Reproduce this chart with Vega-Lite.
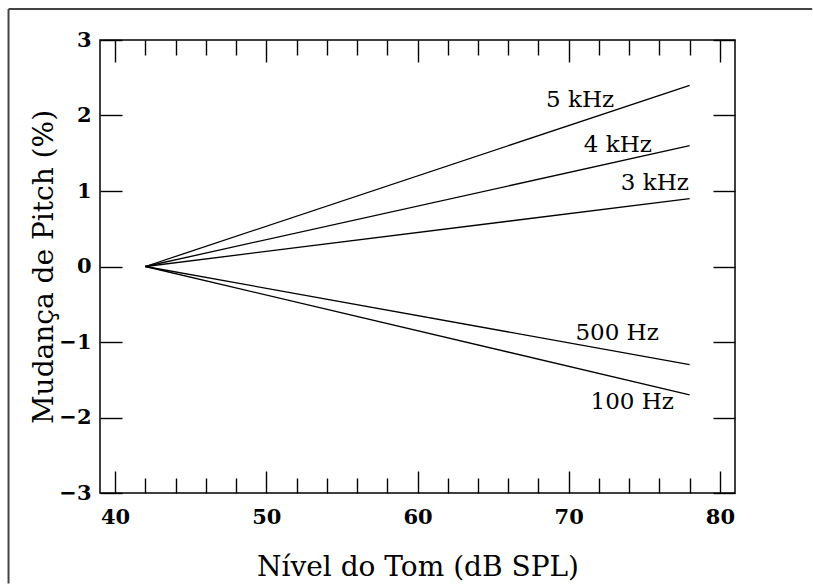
{
  "$schema": "https://vega.github.io/schema/vega-lite/v6.json",
  "width": 635,
  "height": 453,
  "autosize": "none",
  "padding": {"left": 100, "top": 40, "right": 78, "bottom": 93},
  "background": "white",
  "config": {
    "view": {"stroke": "#000", "strokeWidth": 1.5},
    "axis": {
      "domain": false,
      "grid": false,
      "tickColor": "#000",
      "tickWidth": 1.4,
      "labelFont": "DejaVu Serif",
      "labelFontWeight": "bold",
      "labelFontSize": 21,
      "labelColor": "#000",
      "titleFont": "DejaVu Serif",
      "titleFontWeight": "normal",
      "titleFontSize": 28,
      "titleColor": "#000"
    }
  },
  "datasets": {
    "curves": [
      {"serie": "5 kHz", "nivel": 42, "mudanca": 0},
      {"serie": "5 kHz", "nivel": 78, "mudanca": 2.4},
      {"serie": "4 kHz", "nivel": 42, "mudanca": 0},
      {"serie": "4 kHz", "nivel": 78, "mudanca": 1.6},
      {"serie": "3 kHz", "nivel": 42, "mudanca": 0},
      {"serie": "3 kHz", "nivel": 78, "mudanca": 0.9},
      {"serie": "500 Hz", "nivel": 42, "mudanca": 0},
      {"serie": "500 Hz", "nivel": 78, "mudanca": -1.3},
      {"serie": "100 Hz", "nivel": 42, "mudanca": 0},
      {"serie": "100 Hz", "nivel": 78, "mudanca": -1.7}
    ],
    "labels": [
      {"serie": "5 kHz", "lx": 70.75, "ly": 2.2},
      {"serie": "4 kHz", "lx": 73.25, "ly": 1.61},
      {"serie": "3 kHz", "lx": 75.7, "ly": 1.11},
      {"serie": "500 Hz", "lx": 73.2, "ly": -0.88},
      {"serie": "100 Hz", "lx": 74.2, "ly": -1.79}
    ],
    "frame": [
      {"x0": 32.95, "x1": 86.1, "y0": 3.41, "y1": 3.41},
      {"x0": 32.95, "x1": 32.95, "y0": 3.41, "y1": -4.2}
    ]
  },
  "layer": [
    {
      "data": {"name": "curves"},
      "mark": {"type": "line", "color": "#000", "strokeWidth": 1.3},
      "encoding": {
        "x": {
          "field": "nivel",
          "type": "quantitative",
          "scale": {"domain": [39, 81], "nice": false, "zero": false},
          "axis": {
            "orient": "bottom",
            "title": "Nível do Tom (dB SPL)",
            "values": [40, 42, 44, 46, 48, 50, 52, 54, 56, 58, 60, 62, 64, 66, 68, 70, 72, 74, 76, 78, 80],
            "labelExpr": "datum.value % 10 === 0 ? datum.label : ''",
            "tickSize": {"condition": {"test": "datum.value % 10 === 0", "value": -22}, "value": -15},
            "labelPadding": 35,
            "titlePadding": 26
          }
        },
        "y": {
          "field": "mudanca",
          "type": "quantitative",
          "scale": {"domain": [-3, 3], "nice": false, "zero": false},
          "axis": {
            "orient": "left",
            "title": "Mudança de Pitch (%)",
            "values": [-3, -2, -1, 0, 1, 2, 3],
            "tickSize": -22,
            "labelPadding": 31,
            "titlePadding": 0
          }
        },
        "detail": {"field": "serie"}
      }
    },
    {
      "data": {"name": "labels"},
      "mark": {"type": "text", "font": "DejaVu Serif", "fontSize": 23, "color": "#000", "align": "center", "baseline": "middle"},
      "encoding": {
        "x": {
          "field": "lx",
          "type": "quantitative",
          "axis": {
            "orient": "top",
            "title": null,
            "labels": false,
            "values": [40, 42, 44, 46, 48, 50, 52, 54, 56, 58, 60, 62, 64, 66, 68, 70, 72, 74, 76, 78, 80],
            "tickSize": {"condition": {"test": "datum.value % 10 === 0", "value": -22}, "value": -15}
          }
        },
        "y": {
          "field": "ly",
          "type": "quantitative",
          "axis": {
            "orient": "right",
            "title": null,
            "labels": false,
            "values": [-3, -2, -1, 0, 1, 2, 3],
            "tickSize": -22
          }
        },
        "text": {"field": "serie"}
      }
    },
    {
      "data": {"name": "frame"},
      "mark": {"type": "rule", "stroke": "#444", "strokeWidth": 2, "clip": false},
      "encoding": {
        "x": {"field": "x0", "type": "quantitative", "axis": null},
        "x2": {"field": "x1"},
        "y": {"field": "y0", "type": "quantitative", "axis": null},
        "y2": {"field": "y1"}
      }
    }
  ],
  "resolve": {"axis": {"x": "independent", "y": "independent"}}
}
